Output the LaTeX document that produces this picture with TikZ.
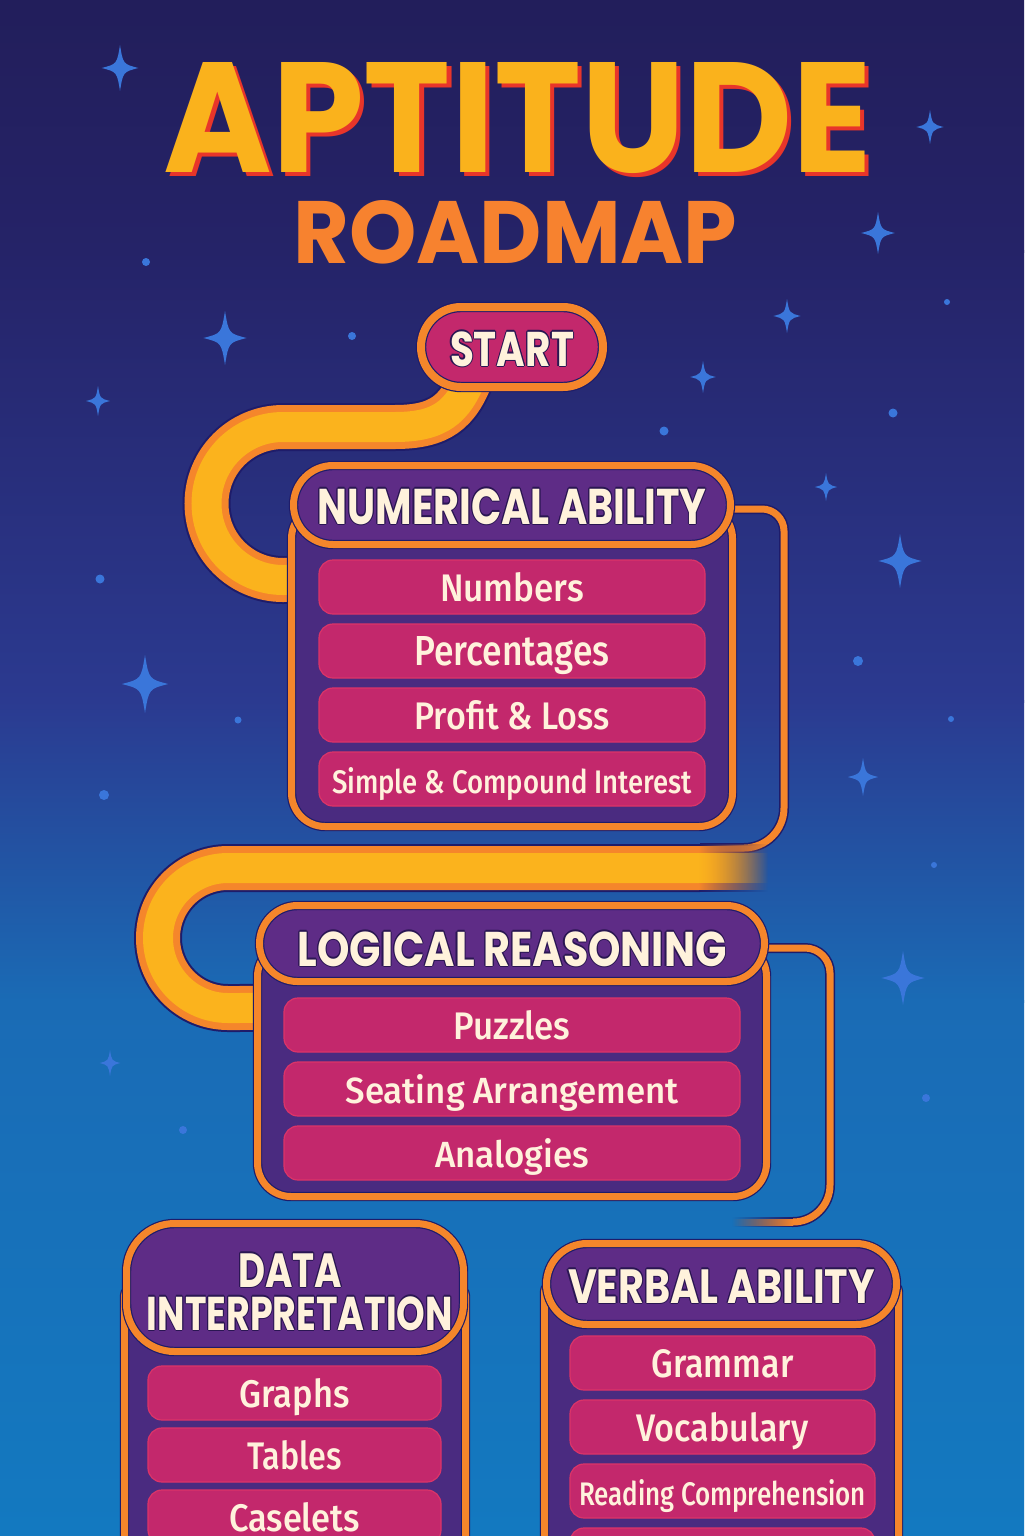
\documentclass[tikz,border=0pt]{standalone}
\usepackage{fontspec}
\usetikzlibrary{fadings}
\newfontfamily\headfont{Poppins}
\IfFontExistsTF{Fira Sans Medium}
  {\newfontfamily\itemfont{Fira Sans Medium}}
  {\IfFontExistsTF{FiraSans-Medium.otf}
     {\newfontfamily\itemfont{FiraSans-Medium.otf}}
     {\newfontfamily\itemfont{Fira Sans}}}

\definecolor{bgTop}{HTML}{221E5B}
\definecolor{bgA}{HTML}{252368}
\definecolor{bgB}{HTML}{2B3A90}
\definecolor{bgC}{HTML}{1A6BB5}
\definecolor{bgD}{HTML}{1379C0}
\definecolor{orangeC}{HTML}{F5862B}
\definecolor{yellowC}{HTML}{FBB31D}
\definecolor{edgeC}{HTML}{1E1C6A}
\definecolor{magC}{HTML}{C3286C}
\definecolor{magEdge}{HTML}{DC3468}
\definecolor{hdrC}{HTML}{5E2C86}
\definecolor{bodyC}{HTML}{4A2B80}
\definecolor{creamC}{HTML}{FFF2DC}
\definecolor{titleY}{HTML}{FAB21C}
\definecolor{titleR}{HTML}{E8352A}
\definecolor{roadC}{HTML}{F7822F}
\definecolor{starC}{HTML}{3A76DA}
\definecolor{ringC}{HTML}{2A1652}

% one drawing unit is half a point
\newdimen\pxu \pxu=0.5pt
\newdimen\ringw
\newcommand\fitted[3]{\resizebox{#1\pxu}{#2\pxu}{#3}}
% text with a thin dark ring around it
\newcommand\ringed[3]{{\ringw=#2\relax
  \def\ringcopy##1##2{\rlap{\kern##1\raisebox{##2}{\color{#1}#3}}}%
  \ringcopy{\ringw}{0pt}\ringcopy{-\ringw}{0pt}%
  \ringcopy{0pt}{\ringw}\ringcopy{0pt}{-\ringw}%
  \ringcopy{.7\ringw}{.7\ringw}\ringcopy{-.7\ringw}{.7\ringw}%
  \ringcopy{.7\ringw}{-.7\ringw}\ringcopy{-.7\ringw}{-.7\ringw}%
  #3}}
% text with a drop shadow to the lower right
\newcommand\dropped[3]{\rlap{\kern#2\raisebox{-#2}{\color{#1}#3}}#3}
\newcommand\headtxt[3]{\fitted{#1}{#2}{\headfont\bfseries\fontsize{26}{30}\selectfont\ringed{ringC}{0.7pt}{#3}}}
\newcommand\itemtxt[3]{\fitted{#1}{#2}{\itemfont\fontsize{20}{24}\selectfont #3}}

\tikzfading[name=fadetoright, left color=transparent!0, right color=transparent!100]
\tikzfading[name=fadetoleft, left color=transparent!100, right color=transparent!0]

\pgfdeclarelayer{back}
\pgfdeclarelayer{links}
\pgfsetlayers{back,links,main}

\tikzset{
  band/.style={draw=yellowC, line width=15pt,
    preaction={draw=edgeC, line width=24pt},
    preaction={draw=orangeC, line width=22pt}},
  thinlink/.style={draw=orangeC, line width=3.5pt,
    preaction={draw=edgeC, line width=5pt}},
  panel/.style={draw=edgeC, double=orangeC, double distance=3.5pt,
    line width=0.6pt, inner sep=0pt, outer sep=0pt},
  bodybox/.style={panel, fill=bodyC},
  headbox/.style={panel, fill=hdrC, text=creamC, text depth=0pt},
  startbox/.style={draw=edgeC, double=orangeC, double distance=4pt,
    line width=0.6pt, fill=magC, inner sep=0pt, rounded corners=20pt,
    minimum width=91pt, minimum height=40pt, text=creamC,
    text height=19pt, text depth=0pt},
  itembox/.style={fill=magC, draw=magEdge, line width=0.6pt,
    rounded corners=7pt, minimum height=27pt, inner sep=0pt,
    text=creamC, text height=14pt, text depth=0pt},
  txt/.style={inner sep=0pt, text=creamC},
  sparkle/.pic={\fill[starC] (0,-1) .. controls (0.17,-0.17) .. (1,0)
     .. controls (0.17,0.17) .. (0,1) .. controls (-0.17,0.17) .. (-1,0)
     .. controls (-0.17,-0.17) .. (0,-1) -- cycle;}
}

\begin{document}
\begin{tikzpicture}[x=0.5pt, y=-0.5pt]
\useasboundingbox (0,0) rectangle (1024,1536);

% ---------- sky, stars and title ----------
\begin{pgfonlayer}{back}
  \fill[top color=bgTop, bottom color=bgA] (0,0) rectangle (1024,252);
  \fill[top color=bgA, bottom color=bgB] (0,250) rectangle (1024,702);
  \fill[top color=bgB, bottom color=bgC] (0,700) rectangle (1024,1002);
  \fill[top color=bgC, bottom color=bgD] (0,1000) rectangle (1024,1536);

  \foreach \px/\py/\s in {120/68/23, 930/127/17, 878/233/21, 225/338/27,
      787/316/17, 703/377/16, 98/401/15, 826/487/14, 900/561/27,
      145/684/29, 863/777/19, 903/978/27, 110/1063/13}
    \pic[scale=\s, xscale=0.8] at (\px,\py) {sparkle};

  \foreach \px/\py/\r in {146/262/4, 352/336/4, 947/302/3, 893/413/4.5,
      664/431/4.5, 100/579/4.5, 858/661/5, 238/720/3.5, 951/719/3,
      104/795/5, 934/865/3, 926/1098/4, 183/1130/4}
    \fill[starC] (\px,\py) circle[radius=\r];

  \node[anchor=base west, inner sep=0pt, text=titleY] (title) at (163,172)
    {\fitted{709}{110}{\headfont\bfseries\fontsize{78}{80}\selectfont\dropped{titleR}{2.2pt}{APTITUDE}}};
  \node[anchor=base west, inner sep=0pt, text=roadC] (subtitle) at (293,263)
    {\fitted{444}{63}{\headfont\bfseries\fontsize{44}{48}\selectfont ROADMAP}};
\end{pgfonlayer}

% ---------- stages ----------
\node[startbox] (start) at (512,347) {\headtxt{124}{36}{START}};

% Numerical ability
\node[bodybox, rounded corners=16.75pt, minimum width=220.5pt, minimum height=160.75pt] (bNum) at (512,665.75) {};
\node[headbox, rounded corners=19.75pt, minimum width=218.5pt, minimum height=39.5pt, text height=19pt] (hNum) at (512,505)
  {\headtxt{389}{37}{NUMERICAL ABILITY}};
\node[itembox, minimum width=193pt] (iN1) at (512,587) {\itemtxt{144}{29}{Numbers}};
\node[itembox, minimum width=193pt] (iN2) at (512,651) {\itemtxt{195}{29}{Percentages}};
\node[itembox, minimum width=193pt] (iN3) at (512,715) {\itemtxt{195}{29}{Profit \& Loss}};
\node[itembox, minimum width=193pt] (iN4) at (512,779) {\itemtxt{360}{26}{Simple \& Compound Interest}};

% Logical reasoning
\node[bodybox, rounded corners=16.75pt, minimum width=254.5pt, minimum height=126.75pt] (bLog) at (512,1069.75) {};
\node[headbox, rounded corners=19pt, minimum width=252.5pt, minimum height=38pt, text height=22.5pt] (hLog) at (512,943.5)
  {\headtxt{429}{36}{LOGICAL REASONING}};
\node[itembox, minimum width=228pt] (iL1) at (512,1025) {\itemtxt{117}{29}{Puzzles}};
\node[itembox, minimum width=228pt] (iL2) at (512,1089) {\itemtxt{333}{29}{Seating Arrangement}};
\node[itembox, minimum width=228pt] (iL3) at (512,1153) {\itemtxt{154}{29}{Analogies}};

% Data interpretation
\node[bodybox, rounded corners=4pt, minimum width=170.5pt, minimum height=156pt] (bDat) at (295,1444) {};
\node[headbox, rounded corners=24pt, minimum width=168.5pt, minimum height=64pt] (hDat) at (295,1287.5) {};
\node[txt, anchor=base] (tDat1) at (290,1287) {\headtxt{104}{35}{DATA}};
\node[txt, anchor=base] (tDat2) at (300,1330) {\headtxt{306}{35}{INTERPRETATION}};
\node[itembox, minimum width=146.5pt] (iD1) at (294.5,1393) {\itemtxt{110}{29}{Graphs}};
\node[itembox, minimum width=146.5pt] (iD2) at (294.5,1455) {\itemtxt{95}{29}{Tables}};
\node[itembox, minimum width=146.5pt] (iD3) at (294.5,1517) {\itemtxt{131}{29}{Caselets}};

% Verbal ability
\node[bodybox, rounded corners=4pt, minimum width=177pt, minimum height=158pt] (bVer) at (721.5,1442) {};
\node[headbox, rounded corners=20.25pt, minimum width=175pt, minimum height=40.5pt, text height=19pt] (hVer) at (721.5,1284)
  {\headtxt{307}{35}{VERBAL ABILITY}};
\node[itembox, minimum width=152.5pt] (iV1) at (722.5,1363) {\itemtxt{142}{28}{Grammar}};
\node[itembox, minimum width=152.5pt] (iV2) at (722.5,1427) {\itemtxt{172}{29}{Vocabulary}};
\node[itembox, minimum width=152.5pt] (iV3) at (722.5,1491) {\itemtxt{287}{26}{Reading Comprehension}};
\node[itembox, minimum width=152.5pt] (iV4) at (722.5,1555) {};

% ---------- road between the stages ----------
\begin{pgfonlayer}{links}
  % start -> numerical ability
  \draw[band] ([xshift=-20pt,yshift=6pt]start.south)
     .. controls (458,412) and (440,427) .. (395,427) -- (283,427)
     arc[start angle=270, end angle=90, radius=76.5]
     -- ([xshift=10pt,yshift=43pt]bNum.west);

  % numerical ability -> logical reasoning
  \draw[thinlink] ([yshift=-2pt]hNum.east) -- (762,509)
     arc[start angle=270, end angle=360, radius=22] -- (784,808)
     arc[start angle=0, end angle=90, radius=40] -- (700,848);
  \coordinate (roadEnd) at (700,868);
  \draw[band] (roadEnd) -- (228,868)
     arc[start angle=270, end angle=90, radius=70]
     -- ([xshift=10pt,yshift=30.9pt]bLog.west);
  \fill[edgeC, path fading=fadetoright] (699,844) rectangle (768,892);
  \fill[orangeC, path fading=fadetoright] (699,846) rectangle (768,890);
  \fill[yellowC, path fading=fadetoright] (699,853) rectangle (768,883);

  % logical reasoning -> lower stages
  \draw[thinlink] ([yshift=-2.25pt]hLog.east) -- (805,948)
     arc[start angle=270, end angle=360, radius=25] -- (830,1185)
     arc[start angle=0, end angle=90, radius=37] -- (792,1222);
  \fill[edgeC, path fading=fadetoleft] (732,1217) rectangle (793,1227);
  \fill[orangeC, path fading=fadetoleft] (732,1218.5) rectangle (793,1225.5);
\end{pgfonlayer}
\end{tikzpicture}
\end{document}
